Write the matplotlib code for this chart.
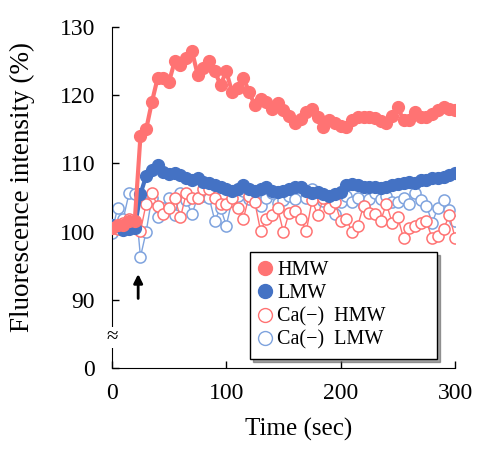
import numpy as np
import matplotlib
matplotlib.use("Agg")
import matplotlib.pyplot as plt
from matplotlib.lines import Line2D

# sampling times (sec)
time_sec = np.arange(0, 305, 5)

hmw = [100.5, 101.0, 101.0, 101.5, 101.5, 114.0, 115.0, 119.0, 122.5, 122.5,
       122.0, 125.0, 124.5, 125.5, 126.5, 123.0, 124.0, 125.0, 123.5, 121.5,
       123.5, 120.5, 121.0, 122.5, 120.5, 118.5, 119.5, 119.0, 118.0, 118.8,
       117.8, 117.0, 116.0, 116.5, 117.5, 118.0, 116.8, 115.3, 116.3, 116.0,
       115.5, 115.3, 116.3, 116.8, 116.8, 116.8, 116.6, 116.2, 115.9, 117.0,
       118.2, 116.3, 116.3, 117.5, 116.8, 116.8, 117.2, 117.8, 118.3, 118.0,
       117.8]

lmw = [101.0, 100.8, 100.3, 100.4, 100.6, 105.5, 108.2, 109.0, 109.7, 108.8,
       108.5, 108.6, 108.3, 107.8, 107.6, 107.8, 107.3, 107.2, 106.8, 106.5,
       106.2, 106.0, 106.3, 106.8, 106.3, 106.0, 106.3, 106.5, 106.0, 105.8,
       106.0, 106.3, 106.5, 106.5, 106.0, 105.6, 105.8, 105.5, 105.3, 105.5,
       105.8, 106.8, 107.0, 106.8, 106.5, 106.6, 106.5, 106.4, 106.6, 106.8,
       107.0, 107.2, 107.3, 107.2, 107.5, 107.6, 107.8, 107.8, 108.0, 108.3,
       108.6]

ca_hmw = [100.6, 100.4, 101.2, 101.9, 101.3, 100.1, 104.1, 105.6, 103.8, 102.6,
          103.5, 104.9, 102.1, 105.6, 104.9, 105.0, 106.3, 106.3, 104.9, 104.1,
          104.1, 105.0, 103.5, 101.9, 105.3, 104.3, 100.1, 101.9, 102.4, 103.4,
          99.9, 102.8, 103.1, 101.9, 100.1, 104.6, 102.4, 105.0, 103.5, 104.3,
          101.6, 101.9, 99.9, 100.9, 103.8, 102.8, 102.6, 101.6, 104.1, 101.3,
          102.1, 99.0, 100.6, 100.9, 101.3, 101.5, 99.0, 99.4, 100.4, 102.4,
          99.1]

ca_lmw = [99.8, 103.5, 101.9, 105.6, 105.5, 96.3, 100.0, 105.0, 102.1, 103.4,
          105.0, 102.4, 105.7, 104.6, 102.6, 105.0, 105.3, 105.0, 101.6, 103.5,
          100.9, 104.5, 105.2, 106.0, 104.8, 105.5, 103.8, 105.0, 105.7, 104.2,
          104.6, 105.2, 104.8, 106.5, 105.0, 106.3, 105.4, 104.5, 104.6, 102.6,
          104.3, 105.2, 104.3, 105.0, 103.8, 104.8, 105.6, 104.8, 105.3, 104.4,
          104.3, 105.0, 104.1, 105.6, 104.6, 103.8, 101.3, 103.5, 104.6, 103.2,
          101.6]

series_labels = ["HMW", "LMW", "Ca(\u2212)  HMW", "Ca(\u2212)  LMW"]

# broken y axis: "0" is drawn where 80 would be
ytick_pos = [80, 90, 100, 110, 120, 130]
ytick_lab = ["0", "90", "100", "110", "120", "130"]
xtick_pos = [0, 100, 200, 300]

red = "#ff7373"
blue = "#4472c4"
light_blue = "#7fa3de"

plt.rcParams["font.family"] = ["Liberation Serif", "DejaVu Serif"]

fig = plt.figure(figsize=(4.78, 4.5), dpi=100)
ax = fig.add_axes([0.234, 0.182, 0.718, 0.758])

# open markers first (behind), then filled
ax.plot(time_sec, ca_lmw, color=light_blue, lw=1.0, marker="o", ms=8,
        mfc="white", mec=light_blue, mew=1.1, zorder=2)
ax.plot(time_sec, ca_hmw, color=red, lw=1.0, marker="o", ms=8,
        mfc="white", mec=red, mew=1.1, zorder=3)
ax.plot(time_sec, lmw, color=blue, lw=3, marker="o", ms=8.5,
        mfc=blue, mec=blue, zorder=4)
ax.plot(time_sec, hmw, color=red, lw=3, marker="o", ms=8.5,
        mfc=red, mec=red, zorder=5)

ax.set_xlim(0, 300)
ax.set_ylim(80, 130)
ax.set_xticks(xtick_pos)
ax.set_yticks(ytick_pos)
ax.set_yticklabels(ytick_lab)
ax.tick_params(direction="in", length=5, width=1, labelsize=17)
ax.tick_params(axis="x", pad=11)
ax.tick_params(axis="y", pad=12)
ax.spines["top"].set_visible(False)
ax.spines["right"].set_visible(False)

# axis break mark
ax.text(0, 84.5, "\u2248", ha="center", va="center", fontsize=15,
        transform=ax.transData, clip_on=False,
        bbox=dict(facecolor="white", edgecolor="none", pad=0.5), zorder=6)

# stimulus arrow
ax.annotate("", xy=(23, 94.2), xytext=(23, 89.8),
            arrowprops=dict(arrowstyle="-|>", color="black", lw=2,
                            mutation_scale=13))

ax.set_xlabel("Time (sec)", fontsize=18)
ax.xaxis.set_label_coords(0.545, -0.145)
ax.set_ylabel("Fluorescence intensity (%)", fontsize=19.5)
ax.yaxis.set_label_coords(-0.225, 0.53)

handles = [
    Line2D([], [], ls="none", marker="o", ms=10, mfc=red, mec=red),
    Line2D([], [], ls="none", marker="o", ms=10, mfc=blue, mec=blue),
    Line2D([], [], ls="none", marker="o", ms=10, mfc="white", mec=red),
    Line2D([], [], ls="none", marker="o", ms=10, mfc="white", mec=light_blue),
]
leg = ax.legend(handles, series_labels, loc="upper left", mode="expand",
                bbox_to_anchor=(0.402, 0.047, 0.546, 0.293), fontsize=14.5,
                frameon=True, fancybox=False, shadow=True, handlelength=0.6,
                handletextpad=0.3, borderpad=0.45, labelspacing=0.2,
                borderaxespad=0)
leg.get_frame().set_edgecolor("black")
leg.get_frame().set_linewidth(1.0)
leg.set_zorder(10)

fig.savefig("out.png", dpi=100)
